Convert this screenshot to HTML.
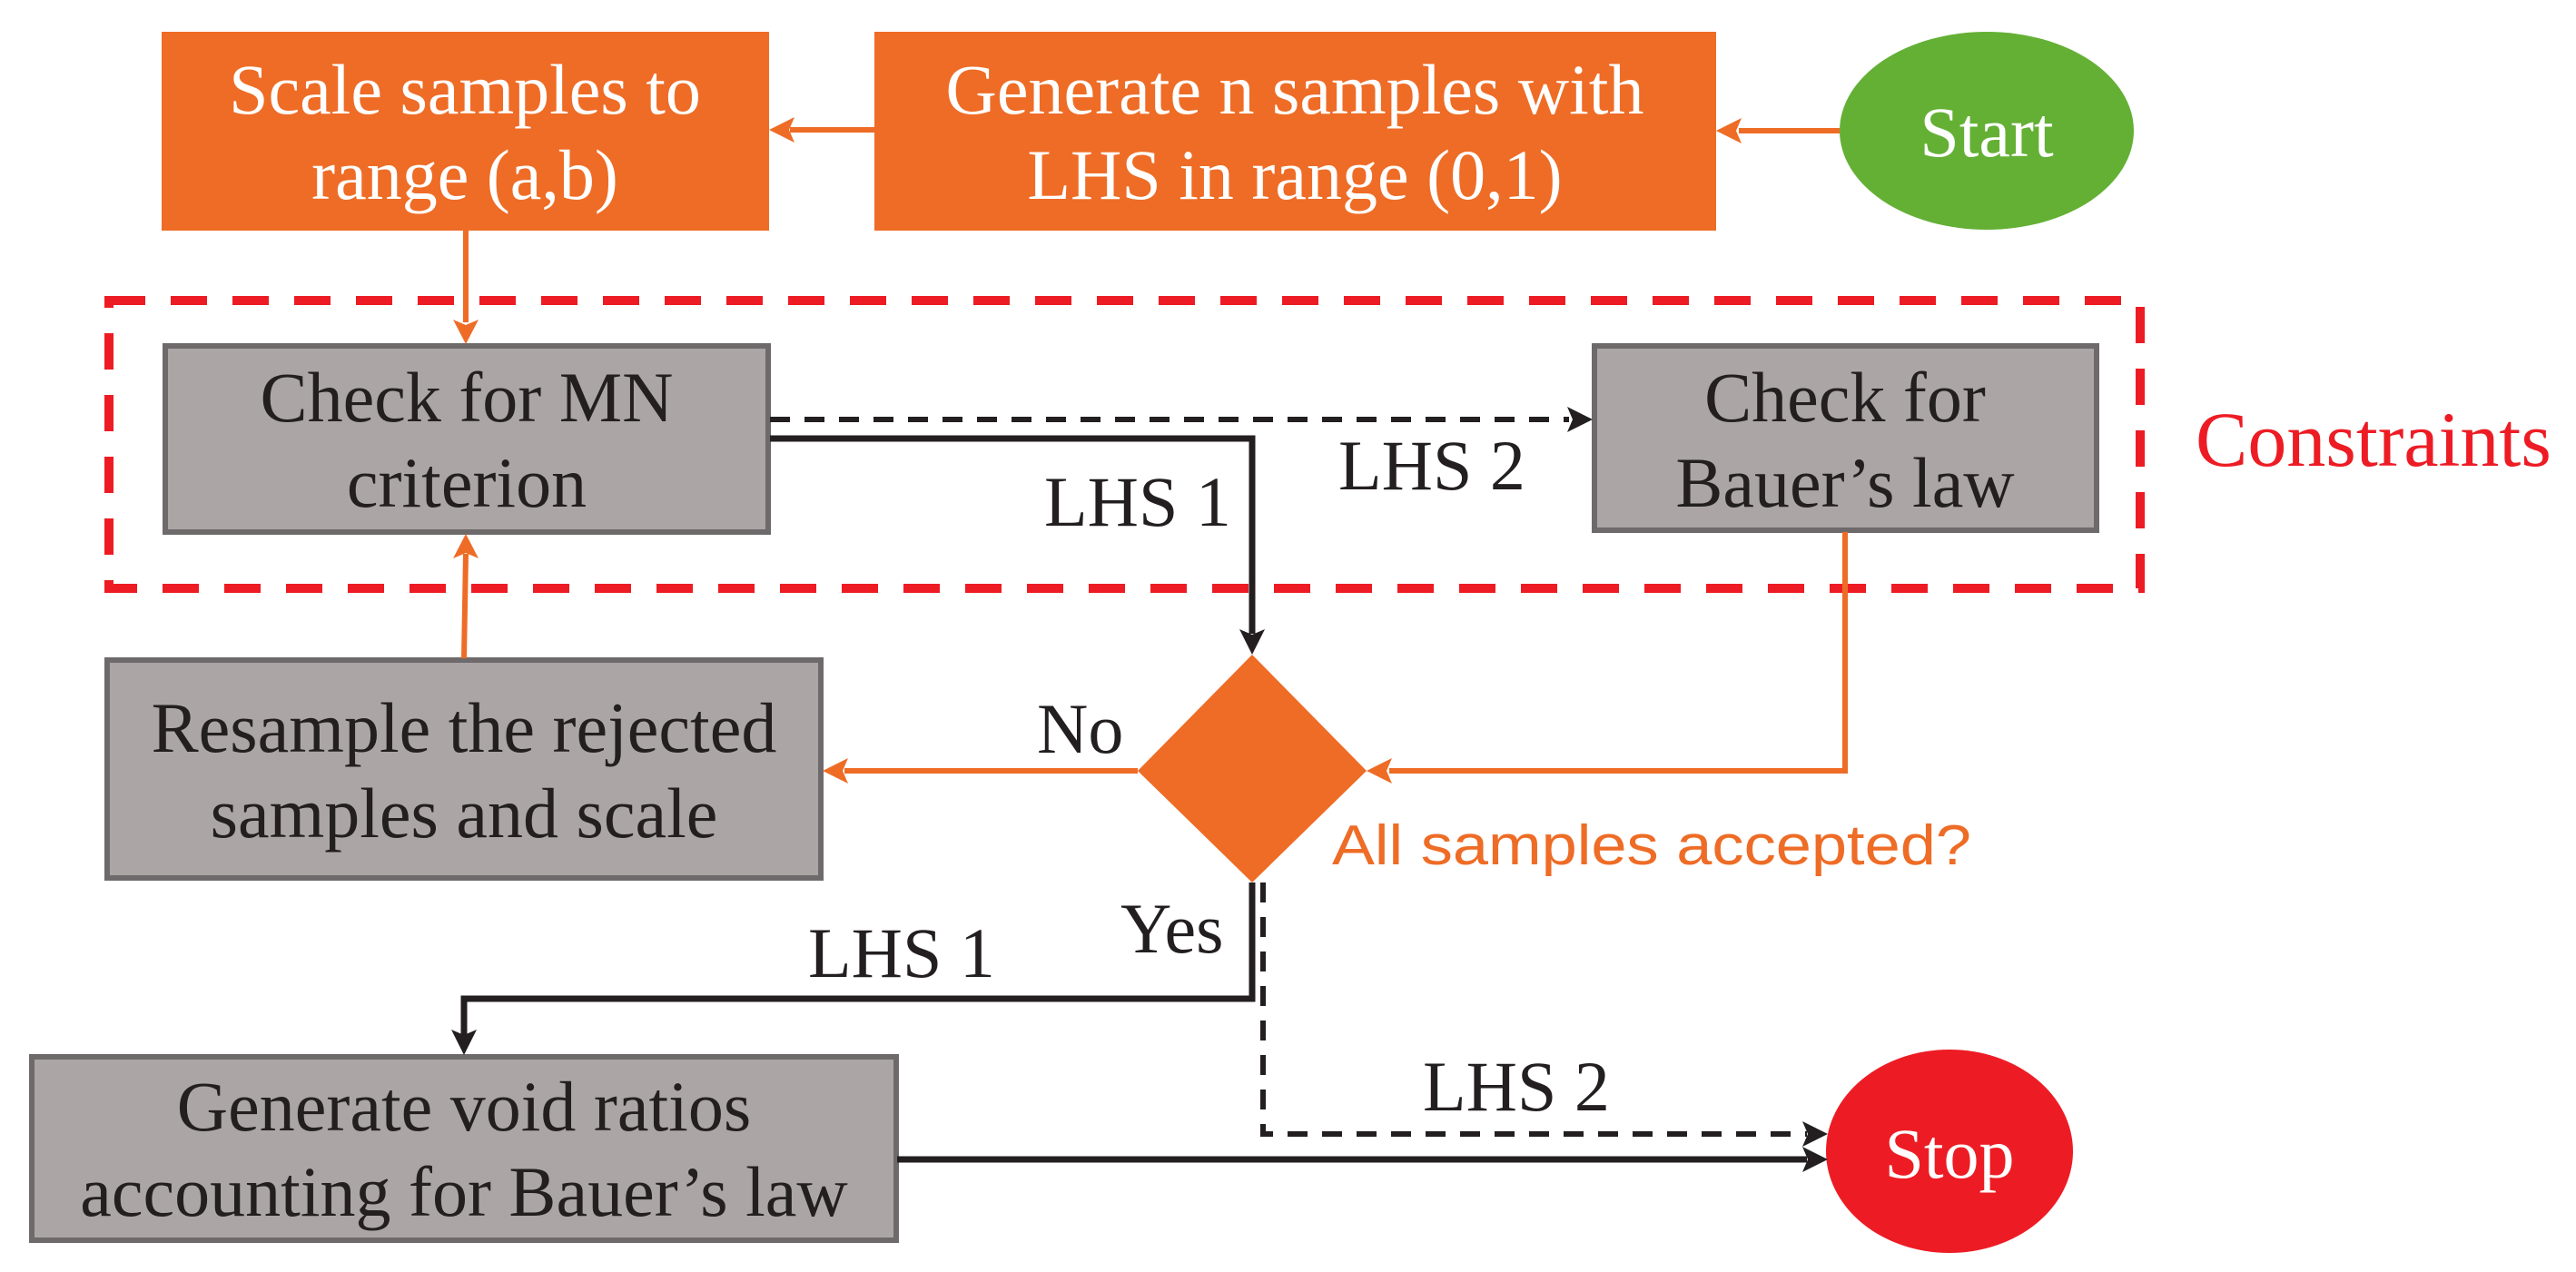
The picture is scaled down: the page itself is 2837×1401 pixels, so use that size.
<!DOCTYPE html>
<html><head><meta charset="utf-8"><style>
html,body{margin:0;padding:0;background:#fff;}
svg{display:block}
text{font-family:"Liberation Serif",serif;}
</style></head><body>
<svg width="2837" height="1401" viewBox="0 0 2837 1401" xmlns="http://www.w3.org/2000/svg">
<g>
<!-- boxes -->
<rect x="178" y="35" width="669" height="219" fill="#EE6C26"/>
<rect x="963" y="35" width="927" height="219" fill="#EE6C26"/>
<ellipse cx="2188" cy="144" rx="162" ry="109" fill="#64B035"/>
<rect x="182" y="381" width="664" height="205" fill="#ABA6A5" stroke="#6E6A6B" stroke-width="6"/>
<rect x="1756" y="381" width="553" height="203" fill="#ABA6A5" stroke="#6E6A6B" stroke-width="6"/>
<rect x="118" y="727" width="786" height="240" fill="#ABA6A5" stroke="#6E6A6B" stroke-width="6"/>
<rect x="35" y="1164" width="952" height="202" fill="#ABA6A5" stroke="#6E6A6B" stroke-width="6"/>
<polygon points="1379,721 1505,849 1379,972 1253,849" fill="#EE6C26"/>
<ellipse cx="2147" cy="1268" rx="136" ry="112" fill="#ED1C24"/>
<!-- red dashed constraint -->
<rect x="120" y="331" width="2237" height="317" fill="none" stroke="#ED1C24" stroke-width="10" stroke-dasharray="40 28"/>
<!-- orange connectors -->
<g stroke="#EE6C26" stroke-width="6" fill="none">
<line x1="2026" y1="144" x2="1915" y2="144"/>
<line x1="963" y1="143" x2="870" y2="143"/>
<line x1="513" y1="254" x2="513" y2="355"/>
<line x1="511" y1="725" x2="513" y2="610"/>
<polyline points="2032,586 2032,849 1530,849"/>
<line x1="1253" y1="849" x2="930" y2="849"/>
</g>
<g fill="#EE6C26">
<polygon points="1890,144 1918,130 1912,144 1918,158"/>
<polygon points="847,143 875,129 869,143 875,157"/>
<polygon points="513,379 499,352 513,358 527,352"/>
<polygon points="513,588 499,615 513,609 527,615"/>
<polygon points="1505,849 1533,835 1527,849 1533,863"/>
<polygon points="906,849 934,835 928,849 934,863"/>
</g>
<!-- black connectors -->
<g stroke="#231F20" fill="none">
<line x1="848" y1="462" x2="1728" y2="462" stroke-width="6" stroke-dasharray="22 16"/>
<polyline points="848,483 1379,483 1379,698" stroke-width="7"/>
<polyline points="1379,972 1379,1100 511,1100 511,1140" stroke-width="7"/>
<polyline points="1391,972 1391,1249 1990,1249" stroke-width="6" stroke-dasharray="22 16"/>
<line x1="988" y1="1277" x2="1990" y2="1277" stroke-width="7"/>
</g>
<g fill="#231F20">
<polygon points="1754,462 1726,448 1732,462 1726,476"/>
<polygon points="1379,721 1365,693 1379,699 1393,693"/>
<polygon points="511,1162 497,1134 511,1140 525,1134"/>
<polygon points="2013,1249 1985,1235 1991,1249 1985,1263"/>
<polygon points="2013,1277 1985,1263 1991,1277 1985,1291"/>
</g>
<!-- text -->
<g font-size="78" text-anchor="middle">
<text x="512" y="125" fill="#fff">Scale samples to</text>
<text x="512" y="219" fill="#fff">range (a,b)</text>
<text x="1426" y="125" fill="#fff">Generate n samples with</text>
<text x="1426" y="219" fill="#fff">LHS in range (0,1)</text>
<text x="2188" y="172" fill="#fff">Start</text>
<text x="514" y="464" fill="#231F20">Check for MN</text>
<text x="514" y="558" fill="#231F20">criterion</text>
<text x="2032" y="464" fill="#231F20">Check for</text>
<text x="2032" y="558" fill="#231F20">Bauer’s law</text>
<text x="511" y="828" fill="#231F20">Resample the rejected</text>
<text x="511" y="922" fill="#231F20">samples and scale</text>
<text x="511" y="1245" fill="#231F20">Generate void ratios</text>
<text x="511" y="1339" fill="#231F20">accounting for Bauer’s law</text>
<text x="2147" y="1297" fill="#fff">Stop</text>
</g>
<g font-size="78" fill="#231F20">
<text x="1150" y="579">LHS 1</text>
<text x="1474" y="539">LHS 2</text>
<text x="1142" y="829">No</text>
<text x="1234" y="1049">Yes</text>
<text x="890" y="1076">LHS 1</text>
<text x="1567" y="1223">LHS 2</text>
</g>
<text x="2418" y="513" font-size="86" fill="#ED1C24">Constraints</text>
<text x="1467" y="952" font-size="62" fill="#EE6C26" textLength="704" lengthAdjust="spacingAndGlyphs" style="font-family:'Liberation Sans',sans-serif">All samples accepted?</text>
</g>
</svg>
</body></html>
